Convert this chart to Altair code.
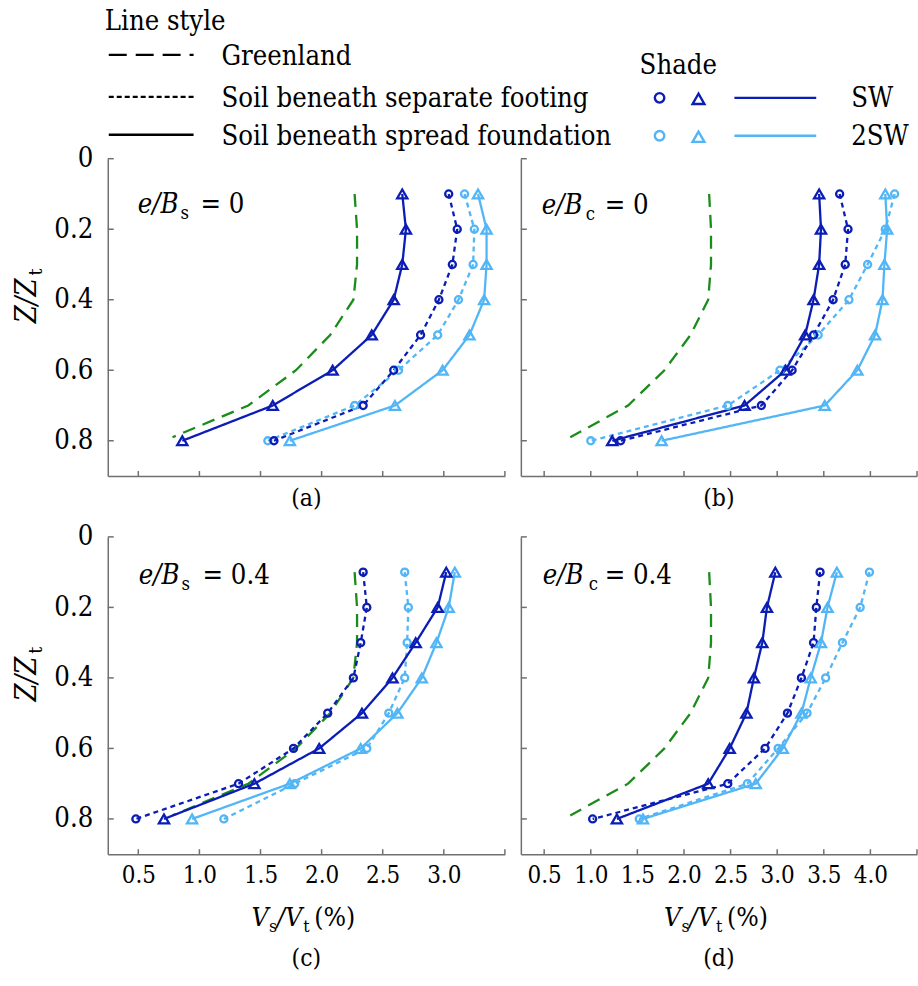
import altair as alt
import pandas as pd

FONT = "DejaVu Serif Condensed"
AXFONT = "DejaVu Serif Condensed"
K = 0.88  # size factor relative to Times-equivalent sizes
DARK = "#0b1db4"
LIGHT = "#52b6f6"
GREEN = "#1b8c1b"
AXIS_GRAY = "#707070"

W_LEFT, W_RIGHT, H = 398, 397, 318

# ---------------- data ----------------
DEPTH = [0.1, 0.2, 0.3, 0.4, 0.5, 0.6, 0.7, 0.8]
GREEN_Z = [0.1, 0.2, 0.3, 0.4, 0.5, 0.6, 0.7, 0.79]
GREEN_V = [2.27, 2.29, 2.29, 2.26, 2.07, 1.79, 1.40, 0.78]

A_SW_SEP = [3.04, 3.11, 3.07, 2.96, 2.81, 2.59, 2.34, 1.61]
A_SW_SPR = [2.66, 2.69, 2.66, 2.59, 2.41, 2.09, 1.60, 0.86]
A_2SW_SEP = [3.17, 3.25, 3.24, 3.12, 2.95, 2.63, 2.27, 1.56]
A_2SW_SPR = [3.28, 3.35, 3.35, 3.33, 3.21, 2.99, 2.60, 1.74]

B_SW_SEP = [3.67, 3.76, 3.73, 3.60, 3.39, 3.16, 2.83, 1.32]
B_SW_SPR = [3.45, 3.47, 3.45, 3.39, 3.30, 3.09, 2.65, 1.23]
B_2SW_SEP = [4.26, 4.16, 3.97, 3.77, 3.44, 3.03, 2.47, 1.00]
B_2SW_SPR = [4.16, 4.18, 4.15, 4.13, 4.05, 3.86, 3.51, 1.76]

C_SW_SEP = [2.34, 2.37, 2.32, 2.26, 2.05, 1.77, 1.32, 0.48]
C_SW_SPR = [3.02, 2.95, 2.77, 2.58, 2.33, 1.98, 1.45, 0.71]
C_2SW_SEP = [2.68, 2.71, 2.70, 2.68, 2.55, 2.37, 1.78, 1.20]
C_2SW_SPR = [3.09, 3.04, 2.94, 2.82, 2.62, 2.32, 1.74, 0.94]

D_SW_SEP = [3.46, 3.42, 3.39, 3.26, 3.11, 2.87, 2.47, 1.02]
D_SW_SPR = [2.98, 2.89, 2.84, 2.75, 2.67, 2.49, 2.26, 1.28]
D_2SW_SEP = [3.99, 3.89, 3.70, 3.52, 3.32, 3.01, 2.68, 1.52]
D_2SW_SPR = [3.64, 3.54, 3.47, 3.36, 3.26, 3.06, 2.77, 1.56]

Y_TICKS = [0, 0.2, 0.4, 0.6, 0.8]
X_TICKS_AC = [0.5, 1.0, 1.5, 2.0, 2.5, 3.0, 3.5]
X_TICKS_BD = [0.5, 1.0, 1.5, 2.0, 2.5, 3.0, 3.5, 4.0, 4.5]

PANEL_DATA = {
    "a": {("2SW", "separate"): A_2SW_SEP, ("2SW", "spread"): A_2SW_SPR,
          ("SW", "separate"): A_SW_SEP, ("SW", "spread"): A_SW_SPR},
    "b": {("2SW", "separate"): B_2SW_SEP, ("2SW", "spread"): B_2SW_SPR,
          ("SW", "separate"): B_SW_SEP, ("SW", "spread"): B_SW_SPR},
    "c": {("2SW", "separate"): C_2SW_SEP, ("2SW", "spread"): C_2SW_SPR,
          ("SW", "separate"): C_SW_SEP, ("SW", "spread"): C_SW_SPR},
    "d": {("2SW", "separate"): D_2SW_SEP, ("2SW", "spread"): D_2SW_SPR,
          ("SW", "separate"): D_SW_SEP, ("SW", "spread"): D_SW_SPR},
}

LEGEND_LINE_LABELS = ["Greenland", "Soil beneath separate footing", "Soil beneath spread foundation"]
SHADE_LABELS = ["SW", "2SW"]


def make_df(key):
    recs = []
    for (s, t), vals in PANEL_DATA[key].items():
        for z, v in zip(DEPTH, vals):
            recs.append({"series": s, "type": t, "grp": s + "-" + t, "z": z, "v": v})
    return pd.DataFrame(recs)


green_df = pd.DataFrame({"z": GREEN_Z, "v": GREEN_V})

color_enc = alt.Color("series:N", scale=alt.Scale(domain=["SW", "2SW"], range=[DARK, LIGHT]), legend=None)
dash_enc = alt.StrokeDash("type:N", scale=alt.Scale(domain=["separate", "spread"], range=[[5, 4], [1, 0]]), legend=None)


def T(text, x, y, size, style="normal", angle=0, align="left", color="black"):
    kw = dict(x=x, y=y, fontSize=round(size * K, 1), font=FONT, fontStyle=style, align=align,
              baseline="alphabetic", color=color)
    if angle:
        kw["angle"] = angle
    return alt.Chart(pd.DataFrame({"t": [text]})).mark_text(**kw).encode(text="t:N")


def hrule(x1, x2, y, color="black", dash=None, width=2.3):
    kw = dict(color=color, strokeWidth=width)
    if dash:
        kw["strokeDash"] = dash
    return alt.Chart(pd.DataFrame({"a": [0]})).mark_rule(**kw).encode(
        x=alt.value(x1), x2=alt.value(x2), y=alt.value(y))


def sym(shape, x, y, color, size):
    return alt.Chart(pd.DataFrame({"a": [0]})).mark_point(
        shape=shape, filled=False, size=size, strokeWidth=2.4, color=color, opacity=1
    ).encode(x=alt.value(x), y=alt.value(y))


def panel(key, width, xdom, xticks, show_xlabels, show_ylabels, sub, ann_val, ann_pos):
    df = make_df(key)
    last = xticks[-1]
    if show_xlabels:
        xaxis = alt.Axis(values=xticks, labelExpr=f"datum.value > {last - 0.25} ? '' : format(datum.value, '.1f')",
                         ticks=False, tickSize=0, domainColor=AXIS_GRAY, domainWidth=1.5, grid=False,
                         labelFont=AXFONT, labelFontSize=24, labelColor="black", labelPadding=9,
                         labelFlush=False, labelOverlap=False, title=None)
    else:
        xaxis = alt.Axis(values=xticks, labels=False, ticks=False, tickSize=0, domainColor=AXIS_GRAY,
                         domainWidth=1.5, grid=False, title=None)
    if show_ylabels:
        yaxis = alt.Axis(values=Y_TICKS, labelExpr="datum.value == 0 ? '0' : format(datum.value, '.1f')",
                         ticks=False, tickSize=0, domainColor=AXIS_GRAY, domainWidth=1.5, grid=False,
                         labelFont=AXFONT, labelFontSize=round(31 * K, 1), labelColor="black", labelPadding=15,
                         labelOverlap=False, title=None)
    else:
        yaxis = alt.Axis(values=Y_TICKS, labels=False, ticks=False, tickSize=0, domainColor=AXIS_GRAY,
                         domainWidth=1.5, grid=False, title=None)

    xenc = alt.X("v:Q", scale=alt.Scale(domain=xdom, nice=False, zero=False), axis=xaxis)
    yenc = alt.Y("z:Q", scale=alt.Scale(domain=[0, 0.9], nice=False, zero=False, reverse=True), axis=yaxis)

    base = alt.Chart(df)
    green = alt.Chart(green_df).mark_line(color=GREEN, strokeDash=[13, 8], strokeWidth=2.3).encode(
        x=xenc, y=yenc, order="z:Q")
    lines = base.mark_line(strokeWidth=2.3).encode(
        x=xenc, y=yenc, color=color_enc, strokeDash=dash_enc, detail="grp:N", order="z:Q")
    circles = base.transform_filter(alt.datum.type == "separate").mark_point(
        shape="circle", filled=False, size=50, strokeWidth=2.3, opacity=1).encode(x=xenc, y=yenc, color=color_enc)
    tris = base.transform_filter(alt.datum.type == "spread").mark_point(
        shape="triangle-up", filled=False, size=105, strokeWidth=2.3, opacity=1).encode(x=xenc, y=yenc, color=color_enc)

    yt = alt.Chart(pd.DataFrame({"z": Y_TICKS})).mark_rule(color=AXIS_GRAY, strokeWidth=1.5).encode(
        y=yenc, x=alt.value(0), x2=alt.value(6))
    xt = alt.Chart(pd.DataFrame({"v": xticks})).mark_rule(color=AXIS_GRAY, strokeWidth=1.5).encode(
        x=xenc, y=alt.value(H), y2=alt.value(H - 5))

    ax, ay, sx, ex = ann_pos
    layers = [green, lines, circles, tris, yt, xt,
              T("e/B", ax, ay, 31, "italic"),
              T(sub, sx, ay + 6, 21),
              T(ann_val, ex, ay, 31)]

    cx = width / 2
    label = {"a": "(a)", "b": "(b)", "c": "(c)", "d": "(d)"}[key]
    if show_xlabels:
        layers.append(T(label, cx, H + 112, 28, align="center"))
        x0 = cx - 55
        ty = H + 72
        layers += [T("V", x0, ty, 30, "italic"), T("s", x0 + 17.5, ty + 6, 20),
                   T("/", x0 + 25.5, ty, 30, "italic"), T("V", x0 + 33.8, ty, 30, "italic"),
                   T("t", x0 + 52, ty + 6, 20), T("(%)", x0 + 63, ty, 30)]
    else:
        layers.append(T(label, cx, H + 30, 28, align="center"))

    if show_ylabels:
        layers += [T("Z/Z", -72, 165, 33, "italic", angle=270),
                   T("t", -66, 117, 22, angle=270)]
    return alt.layer(*layers).properties(width=width, height=H)


pa = panel("a", W_LEFT, [0.25, 3.5], X_TICKS_AC, False, True, "s", "= 0", (30, 54, 73, 93))
pb = panel("b", W_RIGHT, [0.25, 4.5], X_TICKS_BD, False, False, "c", "= 0", (21, 55, 65, 84))
pc = panel("c", W_LEFT, [0.25, 3.5], X_TICKS_AC, True, True, "s", "= 0.4", (31, 47, 74, 95))
pd_ = panel("d", W_RIGHT, [0.25, 4.5], X_TICKS_BD, True, False, "c", "= 0.4", (22, 47, 68, 84))

OX, OY = 107, 157
leg = [
    alt.Chart(pd.DataFrame({"a": [0]})).mark_rule(color="white", strokeWidth=0.5).encode(
        x=alt.value(-OX), x2=alt.value(-OX + 1), y=alt.value(-OY)),
    T("Line style", 104 - OX, 28 - OY, 31),
    hrule(108 - OX, 193 - OX, 53 - OY, dash=[18, 9]),
    T(LEGEND_LINE_LABELS[0], 221 - OX, 63 - OY, 31),
    hrule(108 - OX, 193 - OX, 95 - OY, dash=[5, 3]),
    T(LEGEND_LINE_LABELS[1], 221 - OX, 105 - OY, 31),
    hrule(108 - OX, 193 - OX, 133 - OY),
    T(LEGEND_LINE_LABELS[2], 221 - OX, 143 - OY, 31),
    T("Shade", 640 - OX, 72 - OY, 31),
    sym("circle", 660 - OX, 96 - OY, DARK, 90),
    sym("triangle-up", 699 - OX, 97 - OY, DARK, 140),
    hrule(735 - OX, 817 - OX, 96 - OY, color=DARK),
    T(SHADE_LABELS[0], 852 - OX, 105 - OY, 31),
    sym("circle", 660 - OX, 134 - OY, LIGHT, 90),
    sym("triangle-up", 699 - OX, 135 - OY, LIGHT, 140),
    hrule(735 - OX, 817 - OX, 134 - OY, color=LIGHT),
    T(SHADE_LABELS[1], 852 - OX, 143 - OY, 31),
]
pa = alt.layer(pa, *leg)

chart = alt.concat(pa, pb, pc, pd_, columns=2,
                   spacing={"row": 61, "column": 16}, bounds="flush").properties(
    padding=0, background="white").configure_view(stroke=None)

chart.save("out.html", embed_options={"renderer": "svg", "actions": False})
